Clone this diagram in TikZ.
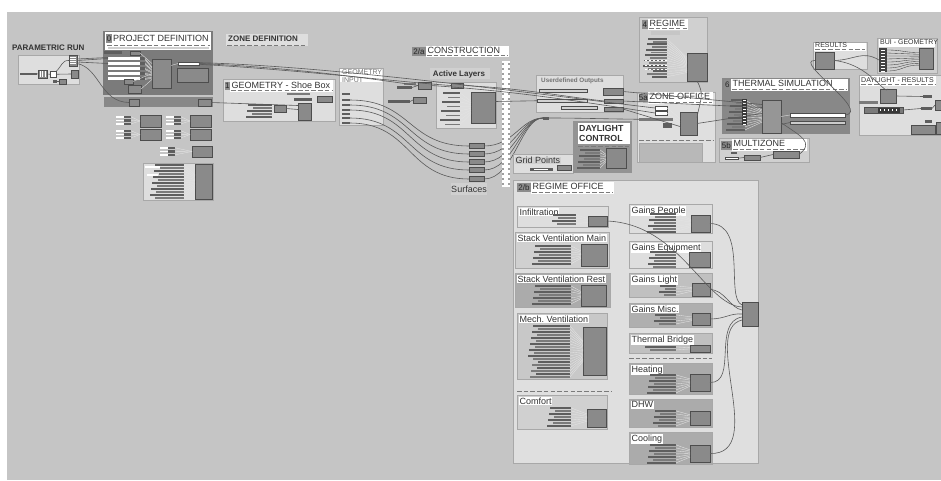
\documentclass[tikz,border=0pt]{standalone}
\usepackage{fontspec}
\setmainfont{Liberation Sans}
\frenchspacing
\definecolor{cvs}{HTML}{C5C5C5}
\definecolor{pl}{HTML}{DEDEDE}
\definecolor{pl2}{HTML}{D0D0D0}
\definecolor{pm}{HTML}{ABABAB}
\definecolor{pd}{HTML}{7B7B7B}
\definecolor{pd2}{HTML}{888888}
\definecolor{dcc}{HTML}{939393}
\definecolor{cf}{HTML}{8A8A8A}
\definecolor{cf2}{HTML}{969696}
\definecolor{cb}{HTML}{4D4D4D}
\definecolor{bk}{HTML}{5E5E5E}
\definecolor{bk2}{HTML}{7A7A7A}
\definecolor{wr}{HTML}{5A5A5A}
\definecolor{lw}{HTML}{E4E4E4}
\definecolor{tx}{HTML}{333333}
\definecolor{nbc}{HTML}{8C8C8C}
\definecolor{dashc}{HTML}{7A7A7A}
\definecolor{edg}{HTML}{A8A8A8}
\newcommand\fT{\fontsize{9}{10}\selectfont}
\newcommand\fB{\bfseries\fontsize{8}{9}\selectfont}
\newcommand\fS{\fontsize{9}{10}\selectfont}
\newcommand\fX{\fontsize{7}{7.5}\selectfont}
\newcommand\fN{\fontsize{8}{8}\selectfont}
% box: style x1 y1 x2 y2 name
\newcommand\bx[6]{\node[#1,inner sep=0pt,outer sep=0pt,minimum width={((#4)-(#2))*1pt},minimum height={((#5)-(#3))*1pt}] (#6) at ({((#2)+(#4))/2},{((#3)+(#5))/2}) {};}
% group title: x1 y1 x2 y2 text name
\newcommand\gt[6]{\bx{fill=white}{#1}{#2}{#3}{#4}{#6}
  \draw[dsh] ({#1+1},{#4-1.2}) -- ({#3-1},{#4-1.2});
  \node[anchor=west,inner sep=0pt,font=\fT,text=tx] (#6t) at ({#1+1.5},{(#2+#4)/2-1.2}) {#5};}
% number box: x1 y1 x2 y2 text name
\newcommand\nb[6]{\bx{fill=nbc}{#1}{#2}{#3}{#4}{#6}
  \node[inner sep=0pt,font=\fN,text=black!85] (#6t) at (#6) {#5};}
% sub panel: fill x1 y1 x2 y2 title name
\newcommand\sub[7]{\bx{fill=#1,draw=edg,line width=0.4pt}{#2}{#3}{#4}{#5}{#7}
  \node[anchor=north west,fill=white,inner sep=0.8pt,font=\fS,text=tx] (#7t) at ({#2+1.5},{#3+1.5}) {#6};}
% inputs: xl xr ystart ysecond yend box mid
\newcommand\ins[7]{\foreach \yy [count=\k] in {#3,#4,...,#5}{%
   \pgfmathsetmacro\xs{#1+mod(\k*5,11)}
   \ifodd\k\def\bc{bk}\else\def\bc{bk2}\fi
   \fill[\bc] (\xs,\yy) rectangle (#2,\yy+1.8);
   \draw[lwire] (#2,\yy+0.9) -- ([yshift={-(\yy-(#7))*0.4pt}]#6.west);}}
\begin{document}
\begin{tikzpicture}[x=1pt,y=-1pt,
  wire/.style={draw=wr,line width=0.6pt},
  lwire/.style={draw=lw,line width=0.35pt},
  dwire/.style={draw=wr!70!black,line width=0.35pt},
  comp/.style={fill=cf,draw=cb,line width=0.45pt},
  lpanel/.style={fill=pl,draw=edg,line width=0.4pt},
  dsh/.style={draw=dashc,line width=0.9pt,dash pattern=on 4.5pt off 2.2pt},
  lbl/.style={inner sep=0pt,text=tx}]
\useasboundingbox (0,0) rectangle (941,480);
\fill[white] (0,0) rectangle (941,480);
\fill[cvs] (7,12) rectangle (941,480);

% ---------------- PARAMETRIC RUN
\node[lbl,anchor=west,font=\fB] (prt) at (12,48) {PARAMETRIC RUN};
\bx{lpanel}{18}{55}{79}{84}{prp}
\bx{fill=bk}{20}{72.5}{37}{75}{pr0}
\bx{comp}{38}{70}{47}{78}{pr1}
\foreach \xx in {40,42.5,45} \draw[white,line width=0.4pt] (\xx,71) -- (\xx,77);
\bx{fill=white,draw=cb,line width=0.4pt}{50}{71.5}{56}{77}{pr2}
\bx{comp}{71}{70}{78}{78}{pr3}
\bx{comp}{69}{55}{77}{66}{pr4}
\foreach \yy in {57,59,61,63} \draw[white,line width=0.4pt] (70,\yy) -- (76,\yy);
\bx{comp}{59}{79}{66}{84}{pr5}
\bx{fill=bk}{53}{80}{57}{83}{pr6}
\draw[wire] (pr0.east) -- (pr1.west);
\draw[wire] (pr1.east) -- (pr2.west);
\draw[wire] (pr2.east) -- (pr3.west);
\draw[wire] (pr2.north east) .. controls (62,66) and (62,60) .. (pr4.west);
\draw[wire] (pr6.east) -- (pr5.west);

% ---------------- PROJECT DEFINITION
\bx{fill=pd}{103}{31}{213}{95}{pdp}
\bx{fill=white}{105}{32}{211}{50}{pdt}
\nb{106}{33.5}{112}{43}{0}{pdn}
\node[lbl,anchor=west,font=\fT] (pdtt) at (113,38.5) {PROJECT DEFINITION};
\draw[dsh] (107,45) -- (210,45);
\fill[pl2] (108,47) rectangle (209,49.3);
\bx{fill=bk}{104}{51}{122}{54}{pda}
\bx{comp}{130}{51}{140}{55}{pdb}
\bx{fill=cf,draw=cb,line width=0.45pt}{152}{59}{171}{88}{pdm}
\foreach \yy [count=\k] in {57,62,67,72,77} {
  \bx{fill=white}{108}{\yy}{140}{\yy+3}{pdi\k}
  \bx{fill=bk}{140}{\yy}{145}{\yy+3}{pdo\k}
  \draw[lwire] (pdo\k.east) -- ([yshift={-(\yy-70)*0.5pt}]pdm.west);
  \draw[lwire] ([yshift=-1pt]pdo\k.east) -- ([yshift={-(\yy-68)*0.5pt}]pdm.west);
}
\bx{comp}{124}{79}{133}{84}{pdc}
\bx{comp}{128}{85}{141}{93}{pdd}
\draw[lwire] (pdc.east) -- (pdm.west);
\draw[lwire] (pdd.east) -- ([yshift=-6pt]pdm.west);
\draw[lwire] (pdb.east) -- ([yshift=10pt]pdm.west);
\bx{fill=white,draw=cb,line width=0.3pt}{178}{62}{199}{65}{pdw}
\bx{fill=cf,draw=cb,line width=0.45pt}{177}{68}{208}{82}{pdr}
\draw[lwire] ([yshift=8pt]pdm.east) -- (pdw.west);
\draw[wire] (pr4.east) -- (pdi1.west);
\draw[wire] ([yshift=-1.5pt]pr4.east) -- (pdi2.west);
\draw[wire] ([yshift=1.5pt]pr4.east) -- ([yshift=1pt]pdi1.west);
% second strip
\bx{fill=pd2}{104}{97}{213}{107}{pds}
\bx{comp}{129}{99}{139}{106}{pds1}
\bx{comp}{198}{99}{211}{106}{pds2}
\draw[wire] ([yshift=-3pt]pr4.east) .. controls (100,68) and (100,102) .. (pds1.west);

% ---------------- small groups below project definition
\foreach \gx/\gy/\bxl/\bxr/\bh [count=\g] in {116/115/140/161/12,166/115/190/211/12,116/129/140/161/11,166/129/190/211/11,160/146/192/212/11}{
  \bx{comp}{\bxl}{\gy}{\bxr}{\gy+\bh}{sgb\g}
  \foreach \dy in {1,4.5,8} {
    \fill[white] (\gx,\gy+\dy) rectangle (\gx+10,\gy+\dy+1.6);
    \fill[bk] (\gx+8,\gy+\dy-0.5) rectangle (\gx+15,\gy+\dy+2);
    \draw[lwire] (\gx+15,\gy+\dy+0.8) -- (sgb\g.west);
  }
}
\bx{lpanel}{143}{163}{213}{200}{sgp}
\bx{comp}{195}{164}{212}{199}{sgB}
\ins{150}{184}{164}{167}{197}{sgB}{181}
\fill[white] (145,166) rectangle (160,168);
\fill[white] (147,174) rectangle (158,176);

% ---------------- ZONE DEFINITION
\bx{fill=pl}{226}{34}{308}{46}{zdp}
\draw[dsh] (227,45) -- (307,45);
\node[lbl,anchor=west,font=\fB] (zdt) at (228,39) {ZONE DEFINITION};

% ---------------- GEOMETRY - Shoe Box
\bx{lpanel}{223}{79}{335}{121}{gsp}
\gt{230}{80}{333}{92}{GEOMETRY - Shoe Box}{gst}
\nb{224.5}{82}{230}{90}{1}{gsn}
\fill[bk2] (287,92.5) rectangle (310,94.5);
\bx{comp}{317}{96}{332}{102}{gs1}
\fill[bk] (294,98) rectangle (312,100.5);
\bx{comp}{274}{105}{286}{112}{gs2}
\bx{comp}{298}{103}{311}{120}{gs3}
\ins{243}{272}{104}{107}{118}{gs2}{110}
\draw[wire] (gs2.east) -- ([yshift=2pt]gs3.west);
\draw[wire] (pds2.east) -- ([yshift=6pt]gs3.west);

% ---------------- GEOMETRY INPUT
\bx{lpanel}{339}{68}{383}{125}{gip}
\bx{fill=white}{340}{68.5}{382}{82}{gitb}
\node[lbl,anchor=north west,font=\fX,text=black!55,align=left] (git) at (342,69.5) {GEOMETRY\\INPUT};
\foreach \i/\yy in {1/94,2/100,3/105,4/110,5/114,6/118,7/123}
  \bx{fill=bk}{342}{\yy-1.3}{350}{\yy+1.3}{go\i};

% ---------------- Surfaces
\foreach \i/\yy in {1/146,2/154,3/162,4/170,5/179}
  \bx{comp}{469}{\yy-2.6}{484}{\yy+2.6}{sf\i};
\bx{fill=pl2}{451}{183}{487}{195}{sflb}
\node[lbl,font=\fS] (sfl) at (469,189) {Surfaces};
\foreach \a/\b in {2/1,3/2,4/3,6/4,7/5}
  \draw[wire] (go\a.east) .. controls +(62,0) and +(-62,0) .. (sf\b.west);
\bx{fill=bk}{543}{116.5}{549}{119.5}{gpc}
\foreach \i in {1,...,5}
  \draw[wire] (sf\i.east) .. controls +(30,0) and +(-22,0) .. (gpc.west);

% ---------------- CONSTRUCTION ladder
\bx{fill=white}{502}{61}{510}{187}{lad}
\foreach \yy in {63,68,...,185} {
  \fill[gray!75] (502,\yy) rectangle (504.2,\yy+1.6);
  \fill[gray!75] (507.8,\yy) rectangle (510,\yy+1.6);
}
\nb{412}{47}{426}{56}{2/a}{con}
\gt{426}{46}{509}{57}{CONSTRUCTION}{cot}

% ---------------- Active Layers
\bx{fill=pl2}{430}{68}{490}{79}{alb0}
\node[lbl,font=\fB] (alt) at (459,74) {Active Layers};
\bx{lpanel}{436}{82}{496}{128}{alp}
\bx{comp}{451}{83}{463}{88}{al1}
\bx{comp}{471}{92}{495}{123}{alb}
\ins{438}{460}{92}{96.5}{126}{alb}{108}
\bx{fill=bk}{397}{86}{412}{89}{ac1}
\bx{comp}{418}{82}{431}{89}{ac2}
\bx{fill=bk}{388}{100}{410}{103}{ac3}
\bx{comp}{413}{97}{426}{103}{ac4}
\fill[bk2] (404,82.5) rectangle (416,84.5);
\draw[wire] (ac1.east) -- (ac2.west);
\draw[wire] (ac3.east) -- (ac4.west);

% ---------------- Userdefined Outputs
\bx{lpanel}{536}{75}{623}{112}{uop}
\node[lbl,anchor=west,font=\bfseries\fontsize{6.3}{7}\selectfont,text=black!55] (uot) at (541,80.5) {Userdefined Outputs};
\bx{fill=gray!35,draw=cb,line width=0.3pt}{539}{89}{587}{92}{ub1}
\bx{fill=gray!35,draw=cb,line width=0.3pt}{537}{99}{587}{102.5}{ub2}
\bx{fill=gray!35,draw=cb,line width=0.3pt}{561}{106}{597}{109}{ub3}
\bx{comp}{603}{88}{623}{95}{uo1}
\bx{comp}{604}{99}{623}{103}{uo2}
\bx{comp}{604}{107}{623}{111}{uo3}

% ---------------- Grid Points / DAYLIGHT CONTROL
\bx{lpanel}{513}{154}{573}{173}{gdp}
\node[lbl,anchor=west,font=\fS,fill=pl2,inner sep=0.5pt] (gdt) at (515,160.5) {Grid Points};
\fill[bk] (530,167.5) rectangle (553,171);
\fill[white] (534,168.5) rectangle (548,169.5);
\bx{comp}{557}{165}{571}{170}{gdb}
\draw[lwire] (553,169) -- (gdb.west);
\bx{fill=dcc}{573}{121}{632}{173}{dcp}
\bx{fill=white}{578}{123}{630}{144}{dct}
\node[lbl,anchor=west,font=\bfseries\fontsize{8.8}{10}\selectfont,align=left] (dctt) at (579,133.5) {DAYLIGHT\\CONTROL};
\draw[dsh] (578,146) -- (630,146);
\bx{comp}{606}{148}{626}{168}{dcb}
\ins{575}{600}{149}{152}{169}{dcb}{158}

% ---------------- REGIME OFFICE
\bx{fill=pl!96,draw=edg,line width=0.4pt}{513}{180}{758}{463}{rop}
\nb{517}{183}{531}{192}{2/b}{ron}
\gt{531}{182}{614}{194}{REGIME OFFICE}{rot}
\sub{pl}{517}{206}{608}{227}{Infiltration}{inp}
\bx{comp}{588}{216}{607}{226}{inb}
\ins{548}{576}{214}{217}{225}{inb}{220}
\sub{pl2}{515}{232}{609}{268}{Stack Ventilation Main}{svm}
\bx{comp}{581}{244}{607}{266}{svmb}
\ins{530}{571}{245}{248}{265}{svmb}{255}
\sub{pm}{515}{273}{610}{307}{Stack Ventilation Rest}{svr}
\bx{comp}{581}{285}{606}{306}{svrb}
\ins{530}{571}{285}{288}{305}{svrb}{295}
\sub{pm!65}{517}{313}{607}{379}{Mech. Ventilation}{mv}
\bx{comp}{583}{327}{606}{375}{mvb}
\ins{528}{570}{325}{328}{376}{mvb}{350}
\draw[dsh] (517,391) -- (612,391);
\sub{pl2}{517}{395}{607}{429}{Comfort}{cfp}
\bx{comp}{587}{409}{606}{427}{cfb}
\ins{545}{571}{407}{410}{427}{cfb}{417}
\sub{pl}{629}{204}{712}{233}{Gains People}{gp}
\bx{comp}{691}{215}{710}{232}{gpb}
\ins{645}{676}{213}{216}{231}{gpb}{223}
\sub{pl}{629}{241}{712}{268}{Gains Equipment}{ge}
\bx{comp}{689}{252}{710}{267}{geb}
\ins{645}{676}{251}{254}{266}{geb}{259}
\sub{pm!75}{629}{273}{712}{297}{Gains Light}{gl}
\bx{comp}{692}{283}{710}{296}{glb}
\ins{655}{676}{285}{288}{294}{glb}{290}
\sub{pm!95}{629}{303}{712}{327}{Gains Misc.}{gm}
\bx{comp}{692}{313}{710}{325}{gmb}
\ins{650}{676}{314}{317}{324}{gmb}{319}
\sub{pm!75}{629}{333}{712}{353}{Thermal Bridge}{tb}
\bx{comp}{690}{345}{710}{352}{tbb}
\ins{640}{676}{346}{349}{349}{tbb}{348}
\draw[dsh] (629,358) -- (712,358);
\sub{pm}{629}{363}{712}{394}{Heating}{ht}
\bx{comp}{690}{374}{710}{391}{htb}
\ins{645}{676}{374}{377}{392}{htb}{383}
\sub{pm}{629}{399}{712}{427}{DHW}{dh}
\bx{comp}{690}{411}{710}{425}{dhb}
\ins{650}{676}{410}{413}{425}{dhb}{418}
\sub{pm}{629}{432}{712}{464}{Cooling}{cl}
\bx{comp}{690}{445}{710}{462}{clb}
\ins{645}{676}{444}{447}{462}{clb}{453}
\bx{comp}{742}{302}{758}{326}{cnb}
\draw[wire] (inb.east) .. controls (680,224) and (705,305) .. ([yshift=7pt]cnb.west);
\draw[wire] (gpb.east) .. controls (748,224) and (725,298) .. ([yshift=9pt]cnb.west);
\draw[wire] (glb.east) .. controls (725,290) and (730,308) .. ([yshift=4pt]cnb.west);
\draw[wire] (gmb.east) .. controls (725,319) and (730,313) .. (cnb.west);
\draw[wire] (htb.east) .. controls (738,383) and (712,322) .. ([yshift=-3pt]cnb.west);
\draw[wire] (clb.east) .. controls (768,455) and (700,330) .. ([yshift=-6pt]cnb.west);

% ---------------- 4 REGIME
\bx{fill=pl2,draw=edg,line width=0.4pt}{639}{17}{707}{82}{rgp}
\nb{641.5}{20}{648}{29}{4}{rgn}
\gt{648}{19}{688}{30}{REGIME}{rgt}
\fill[gray!45] (651,31) rectangle (680,35);
\bx{comp}{687}{53}{707}{81}{rgb}
\ins{643}{667}{38}{40.7}{78}{rgb}{62}
\foreach \xx in {645,649,...,665} \foreach \yy in {60,64.5,69}
  \fill[white] (\xx,\yy) rectangle (\xx+1.6,\yy+1);

% ---------------- 5a ZONE OFFICE
\bx{fill=pl!97,draw=edg,line width=0.4pt}{637}{92}{715}{162}{zop}
\nb{638.5}{94}{648}{102}{5a}{zon}
\gt{648}{92}{713}{104}{ZONE OFFICE}{zot}
\bx{fill=white,draw=cb,line width=0.4pt}{655}{106}{667}{110}{z1}
\bx{fill=white,draw=cb,line width=0.4pt}{655}{111}{667}{115}{z2}
\bx{fill=bk2}{639}{118}{673}{120.5}{z3}
\bx{fill=bk}{663}{123}{672}{128}{z4}
\bx{comp}{680}{112}{697}{135}{zob}
\draw[dsh] (639,140) -- (713,140);
\bx{fill=pm!85,draw=edg,line width=0.4pt}{639}{143}{702}{162}{zbot}
\draw[lwire] (z1.east) -- ([yshift=5pt]zob.west);
\draw[lwire] (z2.east) -- ([yshift=2pt]zob.west);
\draw[lwire] (z3.east) -- (zob.west);
\draw[lwire] (z4.east) -- ([yshift=-4pt]zob.west);

% ---------------- 6 THERMAL SIMULATION
\bx{fill=pd2}{722}{78}{850}{134}{tsp}
\nb{723.5}{80}{731}{90}{6}{tsn}
\gt{731}{79}{848}{91}{THERMAL SIMULATION}{tst}
\bx{fill=cf2,draw=cb,line width=0.45pt}{762}{100}{781}{133}{tsb}
\ins{726}{745}{99}{102}{129}{tsb}{115}
\fill[bk!60!black] (742,99) rectangle (747,125);
\foreach \yy in {100,103,...,124} \fill[white] (743,\yy) rectangle (746,\yy+0.9);
\bx{fill=white,draw=cb,line width=0.4pt}{790}{113}{845}{117}{tsw1}
\bx{fill=gray!40,draw=cb,line width=0.4pt}{790}{121}{845}{124}{tsw2}
\draw[lwire] (tsb.east) -- (tsw1.west);
\draw[wire] ([yshift=-8pt]tsb.east) -- (tsw2.west);

% ---------------- 5b MULTIZONE
\bx{fill=pl2,draw=edg,line width=0.4pt}{719}{138}{809}{162}{mzp}
\nb{720.5}{141}{732}{150}{5b}{mzn}
\gt{732}{139}{807}{151}{MULTIZONE}{mzt}
\bx{fill=white,draw=cb,line width=0.3pt}{725}{157}{738}{159.5}{mz1}
\bx{comp}{744}{155}{760}{160}{mz2}
\bx{fill=bk}{731}{152}{737}{154}{mz3}
\bx{comp}{773}{151}{799}{158}{mzb}
\draw[wire] (mz1.east) -- (mz2.west);
\draw[wire] (mz2.east) -- (mzb.west);
\draw[wire] ([yshift=-6pt]tsb.east) .. controls (800,136) and (815,142) .. (mzb.east);

% ---------------- RESULTS / BUI / DAYLIGHT RESULTS
\bx{fill=pl,draw=edg,line width=0.4pt}{813}{42}{867}{69}{rsp}
\bx{fill=white}{814}{42.5}{866}{50.5}{rst}
\draw[dsh] (815,49.5) -- (865,49.5);
\node[lbl,anchor=west,font=\fX] (rstt) at (815,45.5) {RESULTS};
\bx{comp}{815}{52}{834}{69}{rsb}
\bx{fill=pl2,draw=edg,line width=0.4pt}{877}{38}{937}{73}{bgp}
\bx{fill=white}{879}{38.5}{935}{46.5}{bgt}
\node[lbl,anchor=west,font=\fX] (bgtt) at (880,42.5) {BUI - GEOMETRY};
\bx{fill=bk!70!black}{879}{48}{887}{72}{bgs}
\foreach \yy in {49.5,52.5,...,71} \fill[white] (881,\yy) rectangle (885,\yy+0.9);
\bx{comp}{919}{48}{933}{69}{bgb}
\foreach \yy in {50,53,...,71}
  \draw[dwire] (887,\yy) .. controls (903,\yy) and (903,{58.5+(\yy-60)*0.6}) .. (919,{58.5+(\yy-60)*0.6});
\bx{fill=pl,draw=edg,line width=0.4pt}{859}{75}{941}{135}{drp}
\bx{fill=white}{860}{76}{936}{85.5}{drt}
\draw[dsh] (861,84.5) -- (935,84.5);
\node[lbl,anchor=west,font=\fX] (drtt) at (861,80) {DAYLIGHT - RESULTS};
\bx{comp}{880}{89}{896}{103}{drb}
\bx{fill=bk2}{859}{101}{878}{103.5}{dr0}
\bx{fill=bk2,draw=cb,line width=0.4pt}{864}{107}{903}{113}{drc}
\fill[bk!60!black] (878,107.5) rectangle (900,112.5);
\foreach \xx in {880,884,...,898} \fill[white] (\xx,109) rectangle (\xx+1.2,111);
\bx{fill=bk}{923}{95}{932}{98}{dr1}
\bx{fill=bk}{921}{107}{932}{110}{dr2}
\bx{fill=bk}{925}{120}{932}{123}{dr3}
\bx{comp}{935}{100}{941}{110}{dr4}
\bx{comp}{911}{125}{935}{134}{dr5}
\bx{comp}{936}{122}{941}{134}{dr6}
\draw[wire] (drb.east) .. controls (910,96) and (910,97) .. (dr1.west);
\draw[wire] (drc.east) -- (dr2.west);
\draw[wire] (dr2.east) -- (dr4.west);
\draw[wire] (tsw1.east) .. controls (872,112) and (792,60) .. (rsb.west);
\draw[wire] (rsb.east) .. controls (855,60) and (862,50) .. (bgs.west);
\draw[wire] (rsb.east) .. controls (870,64) and (885,96) .. (drb.north);

% ---------------- long wires along the top
\draw[wire] (pdw.east) .. controls (300,68) and (380,80) .. (ac2.west);
\draw[wire] ([yshift=-0.8pt]pdw.east) .. controls (300,70) and (400,82) .. (al1.west);
\draw[wire] ([yshift=0.8pt]pdw.east) .. controls (330,66) and (520,92) .. (z1.west);
\draw[wire] (ac2.east) .. controls (500,90) and (560,98) .. (z2.west);
\draw[wire] (al1.east) .. controls (520,88) and (560,96) .. (uo2.west);
\draw[wire] ([yshift=6pt]alb.east) -- (ub2.west);
\draw[wire] (uo1.east) -- ([yshift=12pt]tsb.west);
\draw[wire] (uo2.east) -- ([yshift=9pt]tsb.west);
\draw[wire] (uo3.east) -- ([yshift=-3pt]zob.west);
\draw[wire] (zob.east) -- ([yshift=3pt]tsb.west);
\draw[wire] (gpc.east) .. controls (580,118) and (610,119) .. (z3.west);
\draw[wire] (rgb.south) .. controls (705,95) and (700,100) .. ([yshift=6pt]zob.east);
\end{tikzpicture}
\end{document}
